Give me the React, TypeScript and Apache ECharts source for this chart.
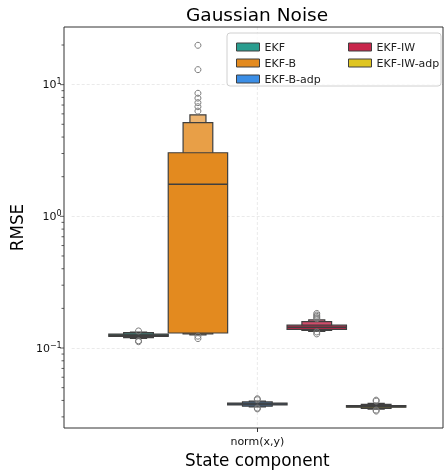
import React, { useEffect, useRef } from "react";
import * as echarts from "echarts";

const categories = ["norm(x,y)"];
const hueNames = ["EKF", "EKF-B", "EKF-B-adp", "EKF-IW", "EKF-IW-adp"];
const hueColors = ["#2a9d8f", "#e38a1f", "#3b8ee6", "#c8264b", "#dfc521"];

// letter-value boxes per model, innermost (widest) first: [low, high]
const ekfBoxes = [[0.1228, 0.1273], [0.1198, 0.1309], [0.1182, 0.1322]];
const ekfBBoxes = [[0.130, 3.04], [0.128, 5.15], [0.126, 5.9]];
const ekfBAdpBoxes = [[0.0370, 0.0381], [0.0362, 0.0390], [0.0357, 0.0396]];
const ekfIWBoxes = [[0.1385, 0.149], [0.136, 0.1588], [0.134, 0.1636]];
const ekfIWAdpBoxes = [[0.0355, 0.0365], [0.0348, 0.0373], [0.0344, 0.0380]];

const medians = [0.125, 1.75, 0.0376, 0.144, 0.036];

const ekfOutliers = [0.1348, 0.1117, 0.1135];
const ekfBOutliers = [19.9, 13.0, 8.6, 7.9, 7.3, 6.8, 6.3, 0.123, 0.118];
const ekfBAdpOutliers = [0.0405, 0.0412, 0.035, 0.0345];
const ekfIWOutliers = [0.183, 0.178, 0.174, 0.17, 0.167, 0.1324, 0.128];
const ekfIWAdpOutliers = [0.0402, 0.0395, 0.0338, 0.0332];

const levelWidths = [1, 0.5, 0.27];
const yMin = 0.0247;
const yMax = 27.4;
const majorTickValues = [0.1, 1, 10];
const minorTickValues = [
  0.03, 0.04, 0.05, 0.06, 0.07, 0.08, 0.09,
  0.2, 0.3, 0.4, 0.5, 0.6, 0.7, 0.8, 0.9,
  2, 3, 4, 5, 6, 7, 8, 9, 20,
];

const allBoxes = [ekfBoxes, ekfBBoxes, ekfBAdpBoxes, ekfIWBoxes, ekfIWAdpBoxes];
const allOutliers = [ekfOutliers, ekfBOutliers, ekfBAdpOutliers, ekfIWOutliers, ekfIWAdpOutliers];

const FONT = "DejaVu Sans";
const EDGE = "#3f3f3f";
const DODGE = 0.8;
const W = 447;
const H = 475;
const GRID = { left: 64, right: 4, top: 27, bottom: 47 };
const PLOT_W = W - GRID.left - GRID.right;

function lighten(hex: string, t: number): string {
  const n = parseInt(hex.slice(1), 16);
  const r = (n >> 16) & 255, g = (n >> 8) & 255, b = n & 255;
  const m = (c: number) => Math.round(c + (255 - c) * t);
  return `rgb(${m(r)},${m(g)},${m(b)})`;
}

function buildSeries(h: number): any {
  const boxes = allBoxes[h];
  const data: any[] = [];
  for (let l = boxes.length - 1; l >= 0; l--) {
    data.push([0, boxes[l][0], boxes[l][1], 0, levelWidths[l], l]);
  }
  data.push([0, medians[h], medians[h], 1, 1, 0]);
  allOutliers[h].forEach((v) => data.push([0, v, v, 2, 0, 0]));
  const color = hueColors[h];
  return {
    type: "custom",
    name: hueNames[h],
    itemStyle: { color },
    encode: { x: 0, y: [1, 2] },
    z: 3,
    renderItem: (params: any, api: any) => {
      const bw = params.coordSys.width;
      const slot = (bw * DODGE) / hueNames.length;
      const cx = api.coord([0, 1])[0] + (h - (hueNames.length - 1) / 2) * slot;
      const kind = api.value(3);
      const lo = api.value(1);
      const hi = api.value(2);
      if (kind === 0) {
        const w = api.value(4) * slot;
        const lvl = api.value(5);
        const y1 = api.coord([0, hi])[1];
        const y0 = api.coord([0, lo])[1];
        return {
          type: "rect",
          shape: { x: cx - w / 2, y: y1, width: w, height: Math.max(y0 - y1, 0.5) },
          style: { fill: lighten(color, lvl * 0.18), stroke: EDGE, lineWidth: 1.2 },
        };
      }
      if (kind === 1) {
        const y = api.coord([0, lo])[1];
        return {
          type: "line",
          shape: { x1: cx - slot / 2, y1: y, x2: cx + slot / 2, y2: y },
          style: { stroke: EDGE, lineWidth: 1.5 },
        };
      }
      const y = api.coord([0, lo])[1];
      return {
        type: "circle",
        shape: { cx, cy: y, r: 3 },
        style: { fill: "none", stroke: "#7a7a7a", lineWidth: 1 },
      };
    },
    data,
  };
}

function tickSeries(name: string, values: number[], len: number): any {
  return {
    type: "custom",
    name,
    z: 2,
    silent: true,
    clip: false,
    encode: { x: 0, y: 1 },
    data: values.map((v) => [0, v]),
    renderItem: (params: any, api: any) => {
      const y = api.coord([0, api.value(1)])[1];
      const x = GRID.left;
      return {
        type: "line",
        shape: { x1: x - len, y1: y, x2: x, y2: y },
        style: { stroke: "#333", lineWidth: 0.8 },
      };
    },
  };
}

export default function App() {
  const ref = useRef<HTMLDivElement>(null);
  useEffect(() => {
    if (!ref.current) return;
    const chart = echarts.init(ref.current, null, { renderer: "svg" });
    const isPow = (v: number) => {
      const l = Math.log10(v);
      return Math.abs(l - Math.round(l)) < 1e-6;
    };
    const legendCommon = {
      orient: "vertical",
      top: 36,
      itemWidth: 23,
      itemHeight: 8,
      itemGap: 4,
      icon: "rect",
      itemStyle: { borderColor: EDGE, borderWidth: 1 },
      textStyle: { fontFamily: FONT, fontSize: 11, color: "#222", lineHeight: 12, padding: [0, 0, 0, 0] },
      z: 10,
    };
    const option: any = {
      animation: false,
      textStyle: { fontFamily: FONT },
      title: {
        text: "Gaussian Noise",
        left: 252,
        textAlign: "center",
        top: 0,
        textStyle: { fontFamily: FONT, fontSize: 18.5, fontWeight: "normal", color: "#000" },
      },
      grid: { ...GRID },
      legend: [
        { ...legendCommon, data: hueNames.slice(0, 3), left: 231 },
        { ...legendCommon, data: hueNames.slice(3), left: 343 },
      ],
      graphic: [
        {
          type: "rect",
          z: 5,
          shape: { x: 227, y: 33, width: 214, height: 53, r: 3 },
          style: { fill: "rgba(255,255,255,0.8)", stroke: "#d0d0d0", lineWidth: 1 },
        },
        {
          type: "rect",
          z: 20,
          silent: true,
          shape: {
            x: GRID.left,
            y: GRID.top,
            width: PLOT_W,
            height: H - GRID.top - GRID.bottom,
          },
          style: { fill: "none", stroke: "#333", lineWidth: 1 },
        },
      ],
      xAxis: {
        type: "category",
        data: categories,
        axisLine: { show: false },
        axisTick: { show: true, alignWithLabel: true, length: 4, lineStyle: { color: "#333" } },
        axisLabel: { fontFamily: FONT, fontSize: 11, color: "#111", margin: 8 },
        splitLine: { show: false },
        name: "State component",
        nameLocation: "middle",
        nameGap: 23,
        nameTextStyle: { fontFamily: FONT, fontSize: 16.8, color: "#000" },
      },
      yAxis: {
        type: "log",
        logBase: 10,
        min: yMin,
        max: yMax,
        axisLine: { show: false },
        axisTick: { show: false },
        splitLine: {
          show: true,
          showMinLine: false,
          showMaxLine: false,
          lineStyle: { color: "#e4e4e4", type: [3, 2], width: 0.8 },
        },
        axisLabel: {
          margin: 10,
          formatter: (v: number) => {
            if (!isPow(v)) return "";
            const e = Math.round(Math.log10(v));
            return `{b|10}{s|${e < 0 ? "\u2212" + -e : e}}`;
          },
          rich: {
            b: { fontFamily: FONT, fontSize: 11, color: "#111" },
            s: { fontFamily: FONT, fontSize: 8, color: "#111", verticalAlign: "top", padding: [0, 0, 6, 0] },
          },
        },
        name: "RMSE",
        nameLocation: "middle",
        nameGap: 38,
        nameTextStyle: { fontFamily: FONT, fontSize: 16.8, color: "#000" },
      },
      series: [
        {
          type: "custom",
          name: "vgrid",
          z: 1,
          silent: true,
          encode: { x: 0, y: 1 },
          data: [[0, 1]],
          renderItem: (params: any, api: any) => {
            const x = api.coord([0, 1])[0];
            return {
              type: "line",
              shape: { x1: x, y1: GRID.top, x2: x, y2: H - GRID.bottom },
              style: { stroke: "#e4e4e4", lineWidth: 0.8, lineDash: [3, 2] },
            };
          },
        },
        tickSeries("majorTicks", majorTickValues, 4),
        tickSeries("minorTicks", minorTickValues, 2.5),
        ...hueNames.map((_, h) => buildSeries(h)),
      ],
    };
    chart.setOption(option);
    return () => chart.dispose();
  }, []);
  return (
    <div
      ref={ref}
      style={{ position: "fixed", left: 0, top: 0, width: W, height: H }}
    />
  );
}
